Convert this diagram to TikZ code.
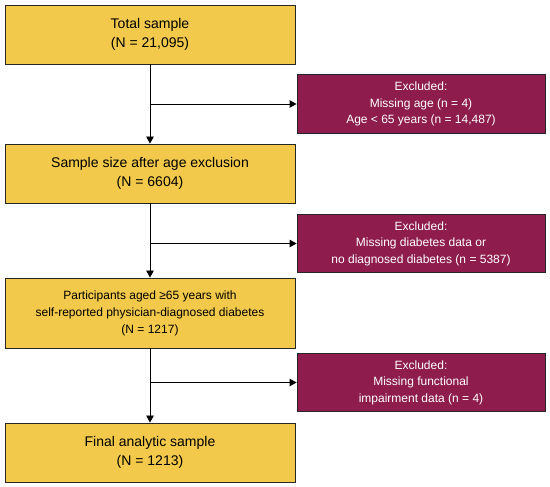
\documentclass[tikz,border=0pt]{standalone}
\usepackage{fontspec}
\setmainfont{Liberation Sans}
\usetikzlibrary{arrows.meta,calc}
\definecolor{boxyellow}{HTML}{F2C94A}
\definecolor{boxred}{HTML}{8E1D4E}

\begin{document}
\begin{tikzpicture}[x=1pt, y=1pt,
	mainbox/.style={draw=black!85, line width=0.9pt, fill=boxyellow, minimum width=290pt, align=center, inner sep=0pt, font=\fontsize{14}{19.5}\selectfont},
	exclbox/.style={draw=black!85, line width=0.9pt, fill=boxred, text=white, minimum width=248pt, minimum height=58.5pt, align=center, inner sep=0pt, font=\fontsize{12}{16.5}\selectfont},
	flow/.style={line width=0.9pt, -{Triangle[width=7.5pt,length=7pt]}}]
	\useasboundingbox (0,0) rectangle (550,487);
	\node[mainbox, minimum height=59pt] (total) at (150,452.5) {Total sample\\(N = 21,095)};
	\node[mainbox, minimum height=59pt] (agesample) at (150,313.5) {Sample size after age exclusion\\(N = 6604)};
	\node[mainbox, minimum height=70pt, font=\fontsize{12}{17}\selectfont] (diabetes) at (150,174) {Participants aged ≥65 years with\\self-reported physician-diagnosed diabetes\\(N = 1217)};
	\node[mainbox, minimum height=59pt] (final) at (150,34.5) {Final analytic sample\\(N = 1213)};
	\node[exclbox] (exclage) at (421,383) {Excluded:\\Missing age (n = 4)\\Age < 65 years (n = 14,487)};
	\node[exclbox] (excldiab) at (421,243.5) {Excluded:\\Missing diabetes data or\\no diagnosed diabetes (n = 5387)};
	\node[exclbox] (exclfunc) at (421,104.5) {Excluded:\\Missing functional\\impairment data (n = 4)};
	% main flow
	\draw[flow] (total) -- (agesample);
	\draw[flow] (agesample) -- (diabetes);
	\draw[flow] (diabetes) -- (final);
	% exclusions
	\draw[flow] (total.south |- exclage.west) -- (exclage.west);
	\draw[flow] (agesample.south |- excldiab.west) -- (excldiab.west);
	\draw[flow] (diabetes.south |- exclfunc.west) -- (exclfunc.west);
\end{tikzpicture}
\end{document}
